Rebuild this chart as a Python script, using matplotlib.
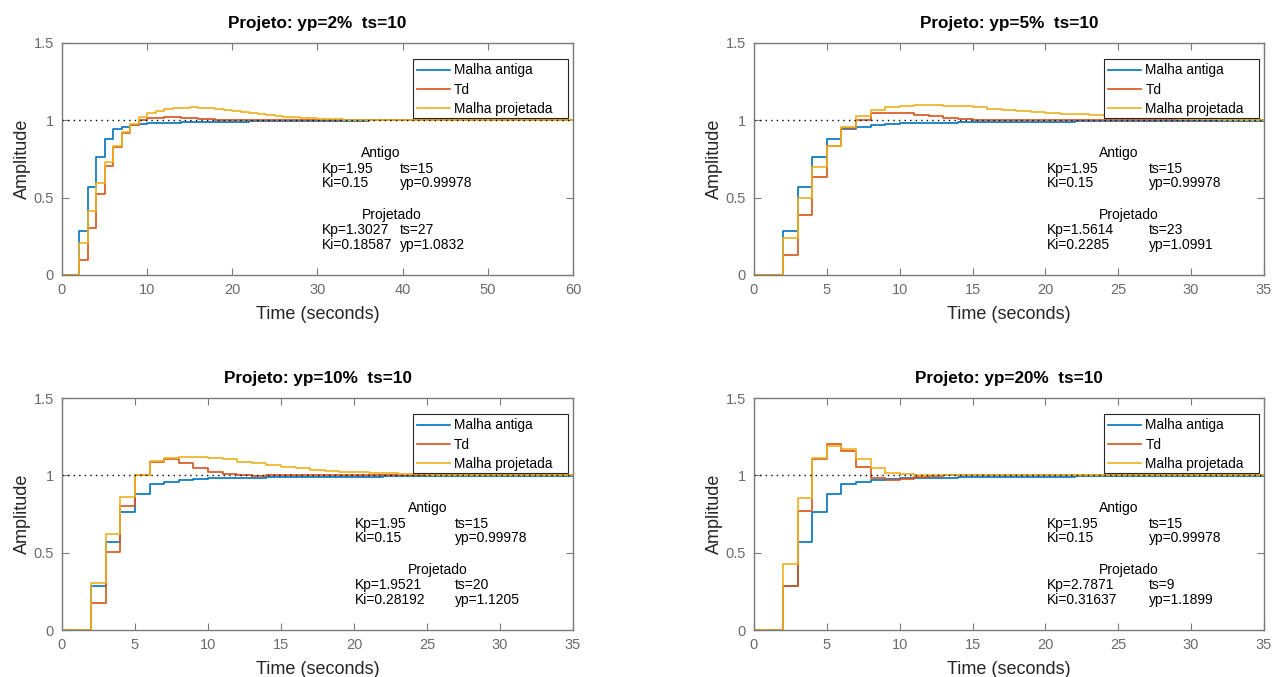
import numpy as np
import matplotlib
matplotlib.use('Agg')
import matplotlib.pyplot as plt
from matplotlib.patches import Rectangle

plt.rcParams['font.family'] = ['Liberation Sans', 'DejaVu Sans']

# Step responses, sampled every 1 s (Ts = 1)
Ts = 1.0

# old loop (Kp=1.95, Ki=0.15) - same in all four designs, 0..60 s
y_antiga = [0, 0, 0.284, 0.571, 0.763, 0.879, 0.941, 0.958, 0.970, 0.976,
            0.980, 0.982, 0.984, 0.985, 0.986, 0.987, 0.988, 0.989, 0.990, 0.991,
            0.992, 0.992, 0.993, 0.994, 0.994, 0.995, 0.995, 0.996, 0.996, 0.997,
            0.997, 0.997, 0.998, 0.998, 0.998, 0.998, 0.999, 0.999, 0.999, 0.999,
            0.999, 1.0, 1.0, 1.0, 1.0, 1.0, 1.0, 1.0, 1.0, 1.0,
            1.0, 1.0, 1.0, 1.0, 1.0, 1.0, 1.0, 1.0, 1.0, 1.0, 1.0]

# design yp=2%, 0..60 s
td_2 = [0, 0, 0.097, 0.306, 0.521, 0.705, 0.830, 0.920, 0.970, 1.000,
        1.012, 1.018, 1.020, 1.020, 1.017, 1.013, 1.010, 1.007, 1.005, 1.003,
        1.002, 1.001, 1.0, 1.0, 1.0, 1.0, 1.0, 1.0, 1.0, 1.0,
        1.0, 1.0, 1.0, 1.0, 1.0, 1.0, 1.0, 1.0, 1.0, 1.0,
        1.0, 1.0, 1.0, 1.0, 1.0, 1.0, 1.0, 1.0, 1.0, 1.0,
        1.0, 1.0, 1.0, 1.0, 1.0, 1.0, 1.0, 1.0, 1.0, 1.0, 1.0]
proj_2 = [0, 0, 0.205, 0.414, 0.593, 0.729, 0.836, 0.922, 0.976, 1.019,
          1.045, 1.061, 1.072, 1.079, 1.082, 1.083, 1.082, 1.079, 1.074, 1.068,
          1.062, 1.055, 1.048, 1.041, 1.035, 1.029, 1.024, 1.020, 1.016, 1.013,
          1.010, 1.008, 1.006, 1.005, 1.004, 1.003, 1.002, 1.001, 1.0, 1.0,
          1.0, 1.0, 1.0, 1.0, 1.0, 1.0, 1.0, 1.0, 1.0, 1.0,
          1.0, 1.0, 1.0, 1.0, 1.0, 1.0, 1.0, 1.0, 1.0, 1.0, 1.0]

# design yp=5%, 0..35 s
td_5 = [0, 0, 0.129, 0.388, 0.636, 0.834, 0.948, 1.002, 1.045, 1.050,
        1.045, 1.035, 1.025, 1.012, 1.006, 1.002, 1.0, 1.0, 1.0, 1.0,
        1.0, 1.0, 1.0, 1.0, 1.0, 1.0, 1.0, 1.0, 1.0, 1.0,
        1.0, 1.0, 1.0, 1.0, 1.0, 1.0]
proj_5 = [0, 0, 0.241, 0.496, 0.700, 0.836, 0.955, 1.028, 1.067, 1.086,
          1.095, 1.099, 1.099, 1.095, 1.090, 1.083, 1.075, 1.067, 1.062, 1.056,
          1.050, 1.044, 1.038, 1.032, 1.027, 1.022, 1.018, 1.015, 1.012, 1.010,
          1.008, 1.006, 1.004, 1.003, 1.002, 1.001]

# design yp=10%, 0..35 s
td_10 = [0, 0, 0.177, 0.504, 0.800, 1.002, 1.088, 1.105, 1.080, 1.045,
         1.020, 1.008, 1.0, 0.998, 1.0, 1.0, 1.0, 1.0, 1.0, 1.0,
         1.0, 1.0, 1.0, 1.0, 1.0, 1.0, 1.0, 1.0, 1.0, 1.0,
         1.0, 1.0, 1.0, 1.0, 1.0, 1.0]
proj_10 = [0, 0, 0.302, 0.620, 0.858, 1.000, 1.090, 1.113, 1.120, 1.120,
           1.115, 1.103, 1.088, 1.077, 1.066, 1.056, 1.045, 1.037, 1.030, 1.024,
           1.019, 1.015, 1.012, 1.009, 1.007, 1.005, 1.004, 1.003, 1.002, 1.001,
           1.0, 1.0, 1.0, 1.0, 1.0, 1.0]

# design yp=20%, 0..35 s
td_20 = [0, 0, 0.284, 0.771, 1.103, 1.200, 1.159, 1.056, 0.985, 0.970,
         0.976, 0.990, 0.998, 1.003, 1.005, 1.005, 1.004, 1.003, 1.002, 1.001,
         1.0, 1.0, 1.0, 1.0, 1.0, 1.0, 1.0, 1.0, 1.0, 1.0,
         1.0, 1.0, 1.0, 1.0, 1.0, 1.0]
proj_20 = [0, 0, 0.425, 0.851, 1.110, 1.190, 1.168, 1.103, 1.045, 1.017,
           1.008, 1.005, 1.002, 1.0, 1.001, 1.003, 1.004, 1.004, 1.003, 1.002,
           1.001, 1.0, 1.0, 1.0, 1.0, 1.0, 1.0, 1.0, 1.0, 1.0,
           1.0, 1.0, 1.0, 1.0, 1.0, 1.0]

titles = ['Projeto: yp=2%  ts=10', 'Projeto: yp=5%  ts=10',
          'Projeto: yp=10%  ts=10', 'Projeto: yp=20%  ts=10']
xmax = [60, 35, 35, 35]
xstep = [10, 5, 5, 5]
td_all = [td_2, td_5, td_10, td_20]
proj_all = [proj_2, proj_5, proj_10, proj_20]
kp_new = ['1.3027', '1.5614', '1.9521', '2.7871']
ki_new = ['0.18587', '0.2285', '0.28192', '0.31637']
ts_new = ['27', '23', '20', '9']
yp_new = ['1.0832', '1.0991', '1.1205', '1.1899']

# text column positions (axes fraction) per subplot: col1, col2, header
txt_x = [(0.509, 0.661, 0.586), (0.575, 0.775, 0.677),
         (0.573, 0.769, 0.677), (0.575, 0.775, 0.677)]

blue = '#0072BD'
red = '#D95319'
yellow = '#EDB120'
grey = '#7a7a7a'

W, H = 1276, 677
fig = plt.figure(figsize=(W / 100, H / 100), dpi=100)
boxes = [(62, 43, 511, 232), (754, 43, 510, 232),
         (62, 398, 511, 232), (754, 398, 510, 232)]

for i in range(4):
    l, t, w, h = boxes[i]
    ax = fig.add_axes([l / W, (H - t - h) / H, w / W, h / H])
    n = xmax[i] + 1
    tt = np.arange(n) * Ts
    ax.step(tt, y_antiga[:n], where='post', color=blue, lw=1.2, label='Malha antiga')
    ax.step(tt, td_all[i], where='post', color=red, lw=1.2, label='Td')
    ax.step(tt, proj_all[i], where='post', color=yellow, lw=1.2, label='Malha projetada')
    ax.plot([0, xmax[i]], [1, 1], color='black', lw=1.0, linestyle=(0, (1, 3)))

    ax.set_xlim(0, xmax[i])
    ax.set_ylim(0, 1.5)
    ax.set_xticks(np.arange(0, xmax[i] + 1, xstep[i]))
    ax.set_yticks([0, 0.5, 1, 1.5])
    ax.set_yticklabels(['0', '0.5', '1', '1.5'])
    ax.tick_params(direction='in', length=5, top=True, right=True,
                   labelsize=10.5, colors=grey, labelcolor='#6b6b6b', pad=6)
    for s in ax.spines.values():
        s.set_color(grey)
        s.set_linewidth(1.0)

    ax.set_title(titles[i], fontsize=12.3, fontweight='bold', pad=11)
    ax.set_xlabel('Time (seconds)', fontsize=13, color='#262626', labelpad=6)
    ax.set_ylabel('Amplitude', fontsize=13, color='#262626', labelpad=2)

    # MATLAB-like legend: white box with extra room on the right
    ax.add_patch(Rectangle((0.686, 0.675), 0.305, 0.255, transform=ax.transAxes,
                           facecolor='white', edgecolor='#262626', lw=0.8, zorder=4))
    leg = ax.legend(loc='upper left', bbox_to_anchor=(0.694, 0.912), borderaxespad=0,
                    borderpad=0, fontsize=9.8, frameon=False, handlelength=2.45,
                    handletextpad=0.3, labelspacing=0.38)
    leg.set_zorder(5)

    c1, c2, hx = txt_x[i]
    fs = 10
    ax.text(hx, 0.525, 'Antigo', transform=ax.transAxes, fontsize=fs, va='center')
    ax.text(c1, 0.459, 'Kp=1.95', transform=ax.transAxes, fontsize=fs, va='center')
    ax.text(c2, 0.459, 'ts=15', transform=ax.transAxes, fontsize=fs, va='center')
    ax.text(c1, 0.395, 'Ki=0.15', transform=ax.transAxes, fontsize=fs, va='center')
    ax.text(c2, 0.395, 'yp=0.99978', transform=ax.transAxes, fontsize=fs, va='center')
    ax.text(hx, 0.259, 'Projetado', transform=ax.transAxes, fontsize=fs, va='center')
    ax.text(c1, 0.193, 'Kp=' + kp_new[i], transform=ax.transAxes, fontsize=fs, va='center')
    ax.text(c2, 0.193, 'ts=' + ts_new[i], transform=ax.transAxes, fontsize=fs, va='center')
    ax.text(c1, 0.129, 'Ki=' + ki_new[i], transform=ax.transAxes, fontsize=fs, va='center')
    ax.text(c2, 0.129, 'yp=' + yp_new[i], transform=ax.transAxes, fontsize=fs, va='center')

fig.savefig('out.png', dpi=100)
